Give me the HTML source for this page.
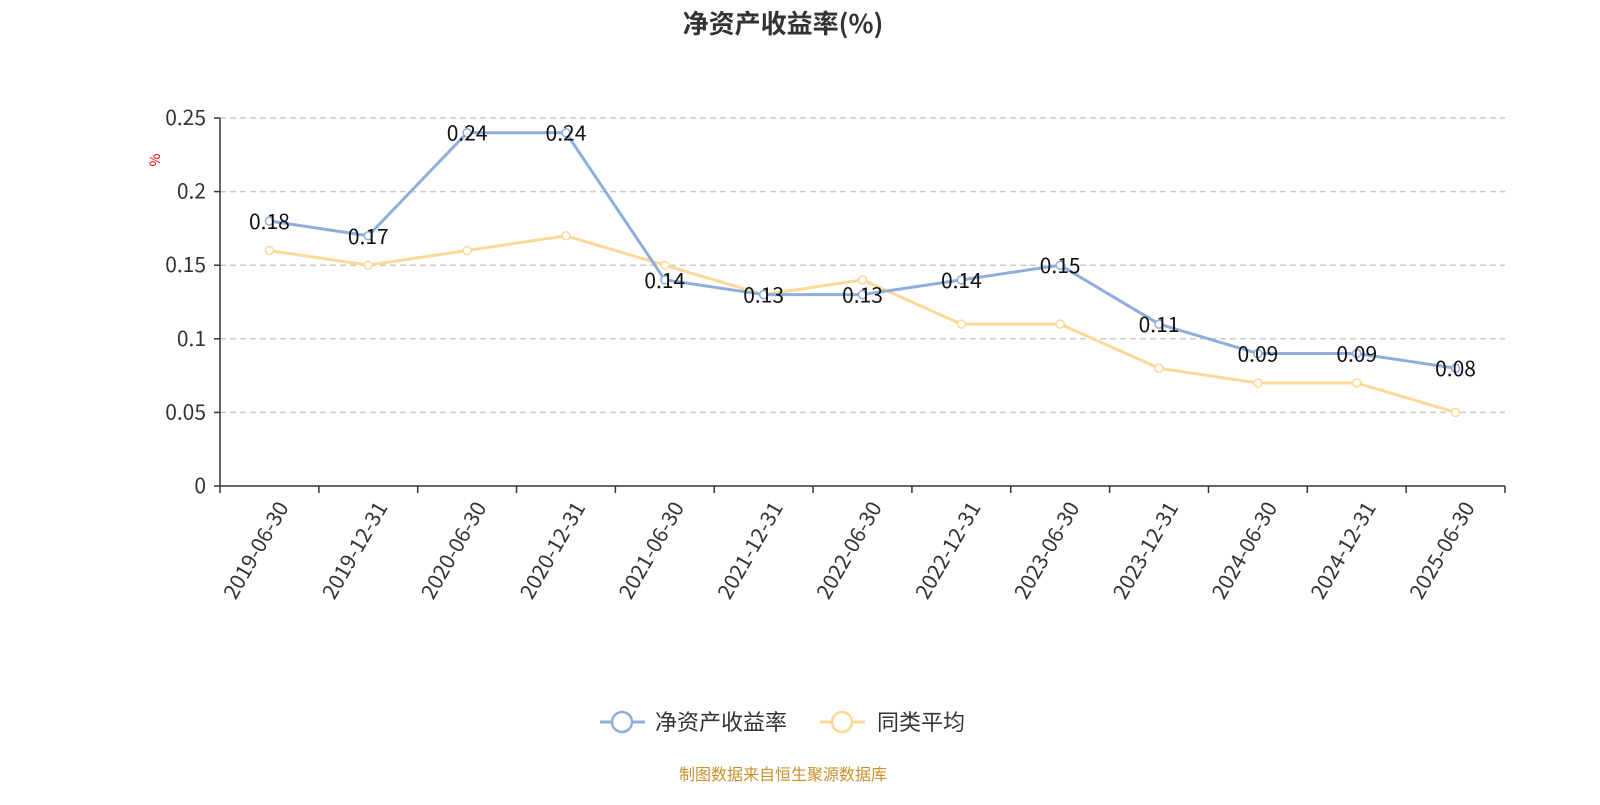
<!DOCTYPE html>
<html><head><meta charset="utf-8">
<style>
html,body{margin:0;padding:0;background:#fff;}
svg text{font-family:"Noto Sans CJK SC","Liberation Sans",sans-serif;}
</style></head>
<body>
<svg id="chart" width="1600" height="800" xmlns="http://www.w3.org/2000/svg">
<text x="783" y="33" text-anchor="middle" font-size="26" font-weight="bold" fill="#333">净资产收益率(%)</text>
<text x="160" y="160" font-size="14" fill="red" transform="rotate(-90 160 160)" text-anchor="middle">%</text>
<g id="grid"></g>
<g id="axes"></g>
<g id="series"></g>
<g>
 <g>
  <line x1="600" y1="722" x2="645" y2="722" stroke="#8eaedb" stroke-width="3"/>
  <circle cx="622" cy="722" r="10" fill="#fff" stroke="#8eaedb" stroke-width="2.5"/>
  <text x="655" y="730" font-size="22" fill="#333">净资产收益率</text>
 </g>
 <g>
  <line x1="820" y1="722" x2="865" y2="722" stroke="#fcd998" stroke-width="3"/>
  <circle cx="842" cy="722" r="10" fill="#fff" stroke="#fcd998" stroke-width="2.5"/>
  <text x="877" y="730" font-size="22" fill="#333">同类平均</text>
 </g>
</g>
<text x="783" y="780" text-anchor="middle" font-size="16" fill="#c8912a">制图数据来自恒生聚源数据库</text>
</svg>
<script>
const categories=["2019-06-30","2019-12-31","2020-06-30","2020-12-31","2021-06-30","2021-12-31","2022-06-30","2022-12-31","2023-06-30","2023-12-31","2024-06-30","2024-12-31","2025-06-30"];
const roeValues=[0.18,0.17,0.24,0.24,0.14,0.13,0.13,0.14,0.15,0.11,0.09,0.09,0.08];
const avgValues=[0.16,0.15,0.16,0.17,0.15,0.13,0.14,0.11,0.11,0.08,0.07,0.07,0.05];
const yTicks=[0,0.05,0.1,0.15,0.2,0.25];
const yTickLabels=["0","0.05","0.1","0.15","0.2","0.25"];

const NS="http://www.w3.org/2000/svg";
const L=220,R=1505,T=118,B=486,yMax=0.25;
const bw=(R-L)/categories.length;
const xS=i=>L+bw*(i+0.5);
const yS=v=>B-(v/yMax)*(B-T);
function mk(tag,attrs,parent){const e=document.createElementNS(NS,tag);for(const k in attrs)e.setAttribute(k,attrs[k]);parent.appendChild(e);return e;}
const grid=document.getElementById('grid'),axes=document.getElementById('axes'),series=document.getElementById('series');
yTicks.forEach((t,i)=>{
  if(t>0){const g=mk('line',{x1:L,x2:R,y1:yS(t),y2:yS(t),stroke:'#ccc','stroke-dasharray':'6,4','stroke-width':1.5},grid);
  
  }
  const tx=mk('text',{x:L-14,y:yS(t)+7,'text-anchor':'end','font-size':21,fill:'#333'},axes);
  tx.textContent=yTickLabels[i];
  
  
  mk('line',{x1:L-6,x2:L,y1:yS(t),y2:yS(t),stroke:'#333','stroke-width':1.5},axes);
});
mk('line',{x1:L,x2:L,y1:T,y2:B,stroke:'#333','stroke-width':1.5},axes);
mk('line',{x1:L,x2:R,y1:B,y2:B,stroke:'#333','stroke-width':1.5},axes);
for(let i=0;i<=categories.length;i++)mk('line',{x1:L+bw*i,x2:L+bw*i,y1:B,y2:B+7,stroke:'#333','stroke-width':1.5},axes);
categories.forEach((c,i)=>{
  const x=xS(i),y=B+12;
  const tx=mk('text',{x:x+4,y:y,'text-anchor':'end','font-size':21,fill:'#333',transform:`rotate(-60 ${x+4} ${y})`,'dominant-baseline':'hanging'},axes);
  tx.textContent=c;
  
  
});
function drawSeries(vals,color,name,labels){
  const pts=vals.map((v,i)=>xS(i)+','+yS(v)).join(' ');
  const pl=mk('polyline',{points:pts,fill:'none',stroke:color,'stroke-width':3},series);
  
  
  vals.forEach((v,i)=>{
    const c=mk('circle',{cx:xS(i),cy:yS(v),r:4,fill:'#fff',stroke:color,'stroke-width':1.5},series);
    
    
    if(labels){const t=mk('text',{x:xS(i),y:yS(v)+8,'text-anchor':'middle','font-size':21,fill:'#111'},series);
      t.textContent=v.toFixed(2);
      
      }
  });
}
drawSeries(avgValues,'#fcd998','avg',false);
drawSeries(roeValues,'#8eaedb','roe',true);
</script>
</body></html>
